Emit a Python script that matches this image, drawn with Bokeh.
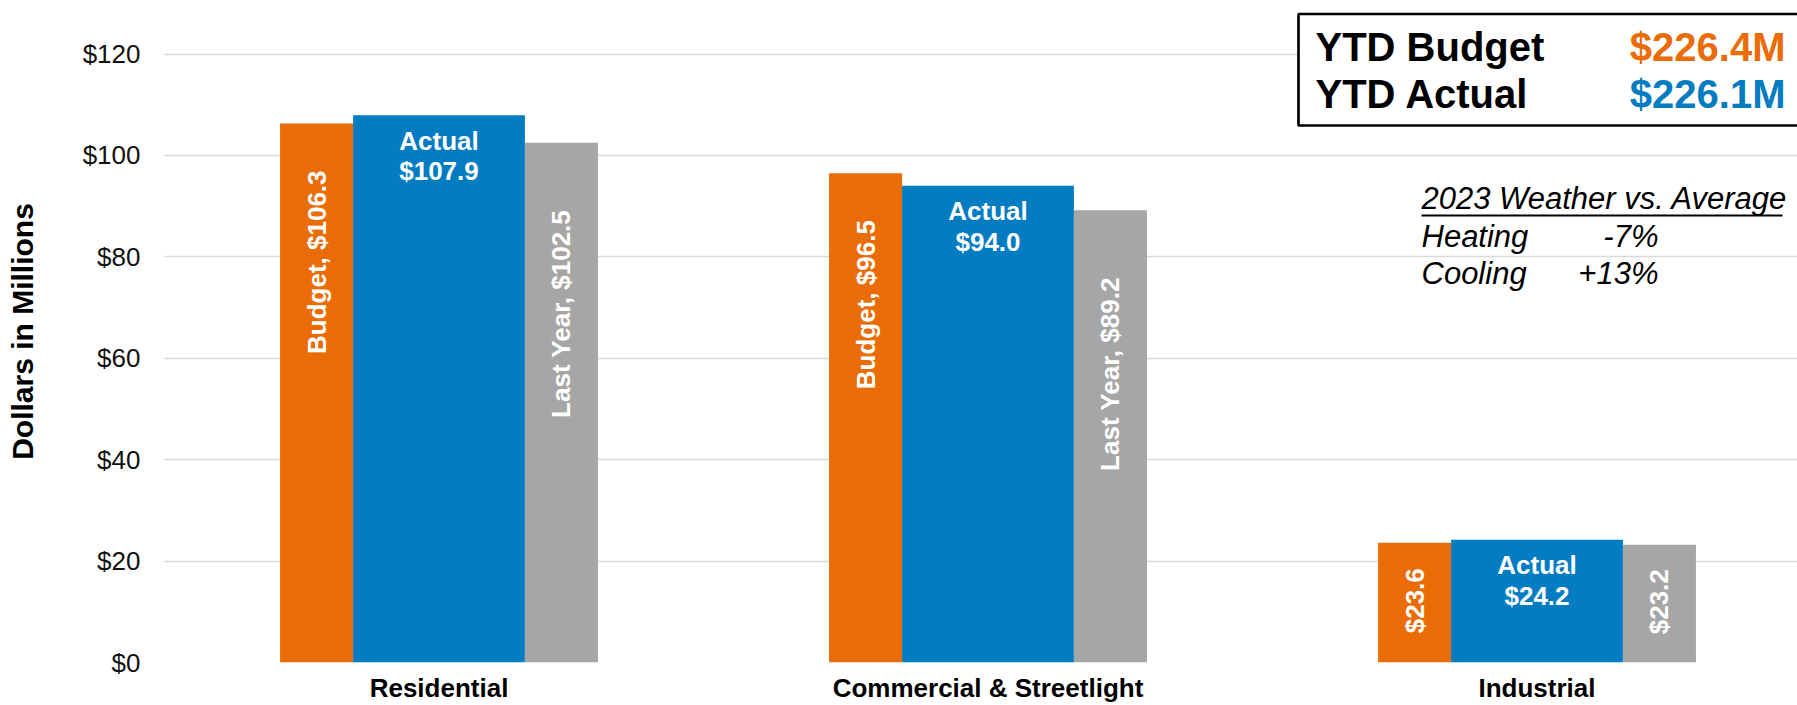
import math
from bokeh.plotting import figure
from bokeh.models import FixedTicker, PrintfTickFormatter
from bokeh.core.properties import value
from bokeh.embed import file_html
from bokeh.resources import INLINE

# ---------------- data ----------------
categories = ["Residential", "Commercial & Streetlight", "Industrial"]
budget = [106.3, 96.5, 23.6]
actual = [107.9, 94.0, 24.2]
last_year = [102.5, 89.2, 23.2]
show_series_name = [True, True, False]
y_ticks = [0, 20, 40, 60, 80, 100, 120]
ytd_labels = ["YTD Budget", "YTD Actual"]
ytd_values = ["$226.4M", "$226.1M"]
weather_title = "2023 Weather vs. Average"
weather_names = ["Heating", "Cooling"]
weather_values = ["-7%", "+13%"]

# ---------------- style ----------------
ORANGE = "#E96C07"
BLUE = "#047CC2"
GRAY = "#A6A6A6"
FONT = value("Liberation Sans")

W, H = 1797, 705
FL = 164            # frame left (px)
FB = 662            # frame bottom (px)
PX_X = 549.0        # px per category
PX_Y = 608.5 / 120  # px per $M
x_end = (W - FL) / PX_X
y_end = FB / PX_Y


def X(px):  # px -> data x
    return (px - FL) / PX_X


def Y(py):  # px -> data y
    return (FB - py) / PX_Y


def BL(py, fs):  # baseline correction for svg text
    return Y(py - 0.35 * fs)


p = figure(width=W, height=H, x_range=(0, x_end), y_range=(0, y_end),
           output_backend="svg", toolbar_location=None,
           min_border_left=FL, min_border_right=0, min_border_top=0,
           min_border_bottom=H - FB)
p.outline_line_color = None
p.background_fill_color = "white"
p.border_fill_color = "white"

# grid
p.xgrid.visible = False
p.ygrid.ticker = FixedTicker(ticks=y_ticks)
p.ygrid.grid_line_color = "#D9D9D9"
p.ygrid.grid_line_width = 1.5

for ax in (p.xaxis, p.yaxis):
    ax.axis_line_color = None
    ax.major_tick_line_color = None
    ax.minor_tick_line_color = None
    ax.major_tick_out = 0
    ax.major_tick_in = 0
    ax.minor_tick_out = 0
    ax.minor_tick_in = 0

# y axis
p.yaxis.ticker = FixedTicker(ticks=y_ticks)
p.yaxis.formatter = PrintfTickFormatter(format="$%d")
p.yaxis.major_label_standoff = 24
p.yaxis.major_label_text_font = "Liberation Sans"
p.yaxis.major_label_text_font_size = "26px"
p.yaxis.major_label_text_color = "#111111"
p.yaxis.axis_label = "Dollars in Millions"
p.yaxis.axis_label_text_font = "Liberation Sans"
p.yaxis.axis_label_text_font_size = "30px"
p.yaxis.axis_label_text_font_style = "bold"
p.yaxis.axis_label_text_color = "black"
p.yaxis.axis_label_standoff = 41

# x axis
centers = [i + 0.5 for i in range(len(categories))]
p.xaxis.ticker = FixedTicker(ticks=centers)
p.xaxis.major_label_overrides = {c: n for c, n in zip(centers, categories)}
p.xaxis.major_label_standoff = 10
p.xaxis.axis_label_standoff = 0
p.xaxis.major_label_text_font = "Liberation Sans"
p.xaxis.major_label_text_font_size = "26px"
p.xaxis.major_label_text_font_style = "bold"
p.xaxis.major_label_text_color = "black"

# bars
side_w = 0.133
mid_w = 0.313
off = (mid_w + side_w) / 2
xb = [c - off for c in centers]
xa = centers
xl = [c + off for c in centers]
p.vbar(x=xb, top=budget, width=side_w, fill_color=ORANGE, line_color=None)
p.vbar(x=xa, top=actual, width=mid_w, fill_color=BLUE, line_color=None)
p.vbar(x=xl, top=last_year, width=side_w, fill_color=GRAY, line_color=None)

# rotated labels
FS = 26


def rot_anchor(v, label, max_gap):
    bar_px = v * PX_Y
    est = len(label) * 0.53 * FS
    gap = min(max_gap, (bar_px - est) / 2)
    return v - gap / PX_Y


b_labels = [("Budget, " if s else "") + f"${v:.1f}" for v, s in zip(budget, show_series_name)]
l_labels = [("Last Year, " if s else "") + f"${v:.1f}" for v, s in zip(last_year, show_series_name)]
for xs, vals, labs, g in ((xb, budget, b_labels, 47), (xl, last_year, l_labels, 67)):
    p.text(x=xs, y=[rot_anchor(v, t, g) for v, t in zip(vals, labs)], text=labs,
           angle=math.pi / 2, text_align="right", text_baseline="middle",
           text_color="white", text_font=FONT, text_font_style="bold",
           text_font_size=f"{FS}px")

# actual labels
sh = 0.33 * FS / PX_Y
p.text(x=xa, y=[v - 34 / PX_Y + sh for v in actual], text=["Actual"] * len(actual),
       text_align="center", text_baseline="alphabetic", text_color="white",
       text_font=FONT, text_font_style="bold", text_font_size=f"{FS}px")
p.text(x=xa, y=[v - 64.5 / PX_Y + sh for v in actual], text=[f"${v:.1f}" for v in actual],
       text_align="center", text_baseline="alphabetic", text_color="white",
       text_font=FONT, text_font_style="bold", text_font_size=f"{FS}px")

# YTD box
p.quad(left=X(1298), right=X(1840), top=Y(13.5), bottom=Y(125),
       fill_color="white", line_color="black", line_width=2.7)
p.text(x=[X(1315)] * 2, y=[BL(60, 40), BL(107, 40)], text=ytd_labels,
       text_align="left", text_baseline="alphabetic", text_color="black",
       text_font=FONT, text_font_style="bold", text_font_size="40px")
p.text(x=[X(1785)] * 2, y=[BL(60, 40), BL(107, 40)], text=ytd_values,
       text_align="right", text_baseline="alphabetic",
       text_color=[ORANGE, BLUE],
       text_font=FONT, text_font_style="bold", text_font_size="40px")

# weather note
WF = 31
p.text(x=[X(1421)], y=[BL(209, WF)], text=[weather_title], text_align="left",
       text_baseline="alphabetic", text_color="black", text_font=FONT,
       text_font_style="italic", text_font_size=f"{WF}px")
p.segment(x0=[X(1421)], y0=[Y(215)], x1=[X(1782)], y1=[Y(215)],
          line_color="black", line_width=2)
p.text(x=[X(1421)] * 2, y=[BL(247, WF), BL(284, WF)], text=weather_names, text_align="left",
       text_baseline="alphabetic", text_color="black", text_font=FONT,
       text_font_style="italic", text_font_size=f"{WF}px")
p.text(x=[X(1658)] * 2, y=[BL(247, WF), BL(284, WF)], text=weather_values, text_align="right",
       text_baseline="alphabetic", text_color="black", text_font=FONT,
       text_font_style="italic", text_font_size=f"{WF}px")

open("out.html", "w").write(file_html(p, INLINE))
